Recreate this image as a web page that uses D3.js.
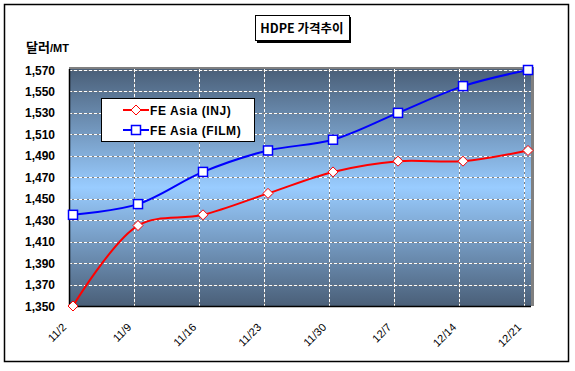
<!DOCTYPE html>
<html>
<head>
<meta charset="utf-8">
<script src="https://cdn.jsdelivr.net/npm/d3@7"></script>
<style>
	body { margin: 0; background: #fff; }
	svg { display: block; font-family: "Liberation Sans", Arial, "Noto Sans CJK KR", sans-serif; }
</style>
</head>
<body>
<div id="div_id_main"></div>
<script>

// chart data
const g_vDates = ["11/2", "11/9", "11/16", "11/23", "11/30", "12/7", "12/14", "12/21"];
const g_vINJ   = [1350, 1425, 1435, 1455, 1475, 1485, 1485, 1495];
const g_vFILM  = [1435, 1445, 1475, 1495, 1505, 1530, 1555, 1570];
const g_vYTicks = [1350, 1370, 1390, 1410, 1430, 1450, 1470, 1490, 1510, 1530, 1550, 1570];

const g_vSeries = [
	{ name: "FE Asia (INJ)",  values: g_vINJ,  color: "#ff0000", marker: "diamond" },
	{ name: "FE Asia (FILM)", values: g_vFILM, color: "#0000ff", marker: "square" }
];

const WIDTH = 575, HEIGHT = 371;
const PLOT_L = 69, PLOT_R = 531, PLOT_T = 69, PLOT_B = 306;

let svgMain = d3.select("#div_id_main")
				.append("svg")
					.attr("width", WIDTH)
					.attr("height", HEIGHT);

// outer frame
svgMain.append("rect")
		.attr("x", 4.5).attr("y", 4.5)
		.attr("width", 564).attr("height", 357)
		.attr("fill", "#fff")
		.attr("stroke", "#000")
		.attr("stroke-width", 1.5);

// --------------------------------------------------

let fScale_X = d3.scalePoint()
					.domain(g_vDates)
					.range([73, 528]);

let fScale_Y = d3.scaleLinear()
					.domain([1350, 1570])
					.range([PLOT_B, 70]);

// background gradient
let defs = svgMain.append("defs");
let grad = defs.append("linearGradient")
				.attr("id", "grad_id_plot")
				.attr("x1", 0).attr("y1", 0)
				.attr("x2", 0).attr("y2", 1);
grad.append("stop").attr("offset", "0%").attr("stop-color", "#4a5f78");
grad.append("stop").attr("offset", "50%").attr("stop-color", "#99ccff");
grad.append("stop").attr("offset", "100%").attr("stop-color", "#4a5f78");

// gray frame shadow (top / right)
svgMain.append("rect")
		.attr("x", PLOT_L).attr("y", PLOT_T - 2)
		.attr("width", PLOT_R - PLOT_L + 3).attr("height", PLOT_B - PLOT_T + 2)
		.attr("fill", "#808080");

svgMain.append("rect")
		.attr("x", PLOT_L).attr("y", PLOT_T)
		.attr("width", PLOT_R - PLOT_L).attr("height", PLOT_B - PLOT_T)
		.attr("fill", "url(#grad_id_plot)");

// grid lines
let gGrid = svgMain.append("g");

g_vYTicks.slice(1).forEach(function(v) {
	let y = Math.round(fScale_Y(v)) + 0.5;
	gGrid.append("line")
			.attr("x1", PLOT_L).attr("x2", PLOT_R)
			.attr("y1", y).attr("y2", y)
			.attr("stroke", "#808080").attr("stroke-width", 1);
	gGrid.append("line")
			.attr("x1", PLOT_L).attr("x2", PLOT_R)
			.attr("y1", y).attr("y2", y)
			.attr("stroke", "#fff").attr("stroke-width", 1)
			.attr("stroke-dasharray", "3,2");
});

g_vDates.slice(1).forEach(function(d) {
	let x = Math.round(fScale_X(d) - 4) + 0.5;
	gGrid.append("line")
			.attr("x1", x).attr("x2", x)
			.attr("y1", PLOT_T).attr("y2", PLOT_B)
			.attr("stroke", "#808080").attr("stroke-width", 1);
	gGrid.append("line")
			.attr("x1", x).attr("x2", x)
			.attr("y1", PLOT_T).attr("y2", PLOT_B)
			.attr("stroke", "#fff").attr("stroke-width", 1)
			.attr("stroke-dasharray", "3,2");
});

// axes lines
svgMain.append("line")
		.attr("x1", PLOT_L + 0.5).attr("x2", PLOT_L + 0.5)
		.attr("y1", PLOT_T).attr("y2", PLOT_B + 1)
		.attr("stroke", "#000").attr("stroke-width", 1.5);
svgMain.append("line")
		.attr("x1", PLOT_L).attr("x2", PLOT_R)
		.attr("y1", PLOT_B + 0.5).attr("y2", PLOT_B + 0.5)
		.attr("stroke", "#000").attr("stroke-width", 1.5);

// y tick labels
svgMain.append("g").selectAll("text")
	.data(g_vYTicks)
	.enter()
		.append("text")
			.attr("x", 55)
			.attr("y", function(v) { return fScale_Y(v) + 4.5; })
			.attr("text-anchor", "end")
			.attr("font-size", "12px")
			.attr("font-weight", "bold")
			.text(function(v) { return d3.format(",")(v); });

// x tick labels
svgMain.append("g").selectAll("text")
	.data(g_vDates)
	.enter()
		.append("text")
			.attr("transform", function(d) { return "translate(" + (fScale_X(d) - 6) + ",328) rotate(-45)"; })
			.attr("text-anchor", "end")
			.attr("font-size", "11px")
			.text(function(d) { return d; });

// unit label
let tUnit = svgMain.append("text")
				.attr("x", 26).attr("y", 52)
				.attr("font-weight", "bold");
tUnit.append("tspan").attr("font-size", "13px").attr("font-family", "'Noto Sans CJK KR', sans-serif").text("달러");
tUnit.append("tspan").attr("font-size", "11px").text("/MT");

// title
svgMain.append("rect")
		.attr("x", 257).attr("y", 17)
		.attr("width", 94).attr("height", 26)
		.attr("fill", "#000");
svgMain.append("rect")
		.attr("x", 255.5).attr("y", 15.5)
		.attr("width", 94).attr("height", 25)
		.attr("fill", "#fff")
		.attr("stroke", "#000").attr("stroke-width", 1);
svgMain.append("text")
		.attr("x", 302).attr("y", 33)
		.attr("text-anchor", "middle")
		.attr("font-size", "12.5px")
		.attr("font-weight", "bold")
		.attr("font-family", "'Noto Sans CJK KR', sans-serif")
		.text("HDPE 가격추이");

// --------------------------------------------------
// series

let lineGen = d3.line()
				.x(function(d, i) { return fScale_X(g_vDates[i]); })
				.y(function(d) { return fScale_Y(d); })
				.curve(d3.curveCatmullRom.alpha(0.5));

function funcDrawMarker(g, type, x, y, color) {
	if (type == "square") {
		g.append("rect")
			.attr("x", x - 4.5).attr("y", y - 4.5)
			.attr("width", 9).attr("height", 9)
			.attr("fill", "#fff")
			.attr("stroke", color).attr("stroke-width", 1.5);
	} else {
		g.append("path")
			.attr("d", "M" + x + "," + (y - 5) + "L" + (x + 5) + "," + y + "L" + x + "," + (y + 5) + "L" + (x - 5) + "," + y + "Z")
			.attr("fill", "#fff")
			.attr("stroke", color).attr("stroke-width", 1);
	}
}

g_vSeries.forEach(function(s) {
	let g = svgMain.append("g");
	g.append("path")
		.attr("d", lineGen(s.values))
		.attr("fill", "none")
		.attr("stroke", s.color)
		.attr("stroke-width", 2);
	s.values.forEach(function(v, i) {
		funcDrawMarker(g, s.marker, fScale_X(g_vDates[i]), fScale_Y(v), s.color);
	});
});

// legend
let gLegend = svgMain.append("g");
gLegend.append("rect")
		.attr("x", 101.5).attr("y", 98.5)
		.attr("width", 153).attr("height", 43)
		.attr("fill", "#fff")
		.attr("stroke", "#000").attr("stroke-width", 1);

g_vSeries.forEach(function(s, i) {
	let y = 110 + i * 20;
	gLegend.append("line")
			.attr("x1", 123).attr("x2", 149)
			.attr("y1", y).attr("y2", y)
			.attr("stroke", s.color).attr("stroke-width", 2);
	funcDrawMarker(gLegend, s.marker, 136, y, s.color);
	gLegend.append("text")
			.attr("x", 150).attr("y", y + 4.5)
			.attr("font-size", "12px")
			.attr("font-weight", "bold")
			.attr("letter-spacing", "0.6px")
			.text(s.name);
});

</script>
</body>
</html>
